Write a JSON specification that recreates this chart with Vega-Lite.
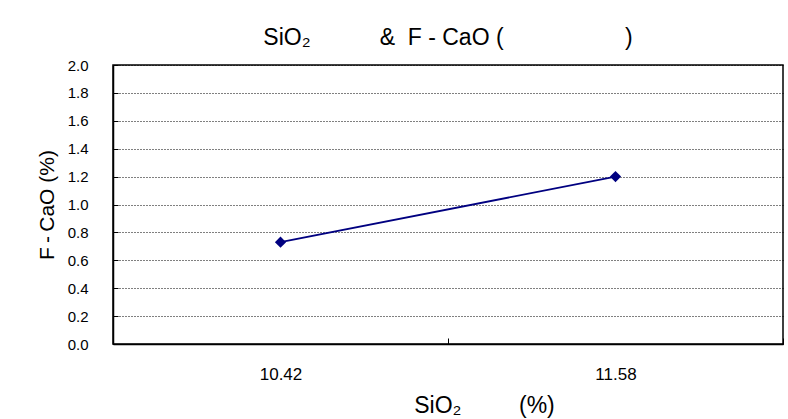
{
  "$schema": "https://vega.github.io/schema/vega-lite/v6.json",
  "width": 670,
  "height": 279,
  "autosize": {"type": "none"},
  "padding": {"left": 113, "top": 65, "right": 5, "bottom": 75},
  "background": "white",
  "title": {
    "text": "SiO₂\u2003\u2003\u2003&\u00a0\u00a0F - CaO (\u2003\u2003\u2003\u2003\u2003\u00a0)",
    "anchor": "middle",
    "font": "Liberation Sans",
    "fontSize": 23,
    "fontWeight": "normal",
    "color": "black",
    "offset": 8.5
  },
  "data": {
    "values": [
      {"sio2": "10.42", "fcao": 0.73},
      {"sio2": "11.58", "fcao": 1.2}
    ]
  },
  "encoding": {
    "x": {
      "field": "sio2",
      "type": "ordinal",
      "scale": {"paddingInner": 0, "paddingOuter": 0},
      "axis": {
        "title": "SiO₂\u2003\u2003\u2002(%)",
        "titleFontSize": 23,
        "titleX": 371,
        "titleAlign": "center",
        "labelAngle": 0,
        "labelFontSize": 17,
        "tickBand": "extent",
        "tickSize": -6,
        "labelPadding": 28,
        "titlePadding": 12,
        "grid": false
      }
    },
    "y": {
      "field": "fcao",
      "type": "quantitative",
      "scale": {"domain": [0, 2]},
      "axis": {
        "title": "F\u2009-\u2009CaO (%)",
        "values": [0, 0.2, 0.4, 0.6, 0.8, 1.0, 1.2, 1.4, 1.6, 1.8, 2.0],
        "format": ".1f",
        "labelFontSize": 15,
        "tickSize": -5,
        "labelPadding": 30,
        "titlePadding": 10
      }
    }
  },
  "layer": [
    {"mark": {"type": "line", "color": "#000080", "strokeWidth": 1.8}},
    {"mark": {"type": "point", "shape": "diamond", "filled": true, "color": "#000080", "size": 125, "opacity": 1}}
  ],
  "config": {
    "font": "Liberation Sans",
    "view": {"stroke": "black", "strokeWidth": 1.5},
    "axis": {
      "domainColor": "black",
      "domainWidth": 1.5,
      "tickColor": "black",
      "labelColor": "black",
      "labelFont": "Liberation Sans",
      "titleFont": "Liberation Sans",
      "titleFontSize": 21,
      "titleFontWeight": "normal",
      "titleColor": "black",
      "gridColor": "black",
      "gridDash": [1, 2],
      "gridOpacity": 1,
      "gridWidth": 1
    }
  }
}
